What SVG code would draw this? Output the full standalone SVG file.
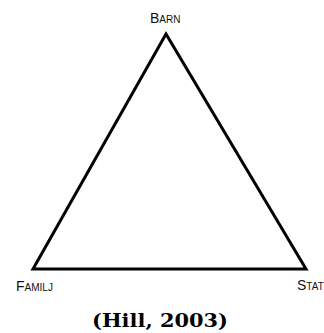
<svg xmlns="http://www.w3.org/2000/svg" width="324" height="333" viewBox="0 0 324 333">
<style>
.lbl{font-family:"Liberation Sans",Arial,sans-serif;fill:#111}
.big{font-size:14px}
.sm{font-size:10px}
.cite{font-family:"DejaVu Serif","Liberation Serif",serif;font-weight:bold;font-size:19px;fill:#000}
</style>
<rect width="324" height="333" fill="#fff"/>
<g id="connectors">
<polygon points="166,34 33,269 306,269" fill="none" stroke="#000" stroke-width="3" stroke-linejoin="miter"/>
</g>
<g id="barn"><text class="lbl" x="150" y="23"><tspan class="big">B</tspan><tspan class="sm">ARN</tspan></text></g>
<g id="familj"><text class="lbl" x="16" y="291"><tspan class="big">F</tspan><tspan class="sm">AMILJ</tspan></text></g>
<g id="stat"><text class="lbl" x="297" y="290"><tspan class="big">S</tspan><tspan class="sm">TAT</tspan></text></g>
<g id="citation"><text class="cite" x="92" y="327" textLength="136" lengthAdjust="spacingAndGlyphs">(Hill, 2003)</text></g>
</svg>
